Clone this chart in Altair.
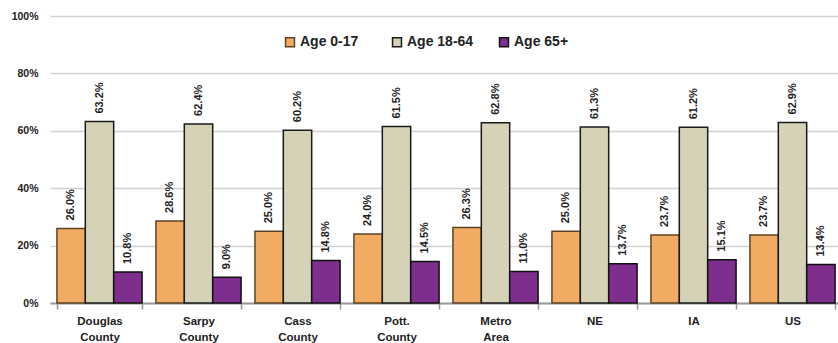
import altair as alt
import pandas as pd

# Population share by age group for each area
areas = ["Douglas County", "Sarpy County", "Cass County", "Pott. County",
         "Metro Area", "NE", "IA", "US"]
groups = ["Age 0-17", "Age 18-64", "Age 65+"]
age_0_17 = [26.0, 28.6, 25.0, 24.0, 26.3, 25.0, 23.7, 23.7]
age_18_64 = [63.2, 62.4, 60.2, 61.5, 62.8, 61.3, 61.2, 62.9]
age_65_plus = [10.8, 9.0, 14.8, 14.5, 11.0, 13.7, 15.1, 13.4]

fills = ["#F1AB62", "#D6D2B7", "#7E2E8C"]
strokes = ["#5e4426", "#1a1a1a", "#111111"]

rows = []
for i, a in enumerate(areas):
    for g, vals in zip(groups, [age_0_17, age_18_64, age_65_plus]):
        rows.append({"area": a, "group": g, "pct": vals[i] / 100.0,
                     "label": f"{vals[i]:.1f}%"})
df = pd.DataFrame(rows)

FONT = "Liberation Sans"

x_enc = alt.X(
    "area:N", sort=areas, title=None,
    scale=alt.Scale(paddingInner=0.14, paddingOuter=0.07, range=[0, 792]),
    axis=alt.Axis(
        labelAngle=0, tickBand="extent", labelExpr="split(datum.label, ' ')",
        labelFont=FONT, labelFontSize=11.5, labelFontWeight="bold",
        labelColor="#222222", labelPadding=6, labelLineHeight=16,
        tickColor="#9a9a9a", tickSize=6, tickWidth=1.5,
        domainColor="#9a9a9a", domainWidth=2, grid=False,
    ),
)
xoff = alt.XOffset("group:N", sort=groups, scale=alt.Scale(paddingInner=0, paddingOuter=0))
y_enc = alt.Y(
    "pct:Q", title=None,
    scale=alt.Scale(domain=[0, 1], nice=False),
    axis=alt.Axis(
        format=".0%", values=[0, 0.2, 0.4, 0.6, 0.8, 1.0], ticks=False, domain=False,
        labelFont=FONT, labelFontSize=10.5, labelFontWeight="bold",
        labelColor="#222222", labelPadding=12,
        gridColor="#d2d2d2", gridWidth=1.5,
    ),
)

bars = alt.Chart(df).mark_bar(strokeWidth=1.5).encode(
    x=x_enc,
    xOffset=xoff,
    y=y_enc,
    color=alt.Color(
        "group:N", sort=groups, title=None,
        scale=alt.Scale(domain=groups, range=fills),
        legend=alt.Legend(
            orient="none", legendX=233, legendY=19, direction="horizontal",
            columns=3, gridAlign="all", columnPadding=22,
            symbolType="square", symbolSize=80, symbolStrokeWidth=1.5,
            symbolStrokeColor="#333333", symbolOffset=0,
            labelFont=FONT, labelFontSize=14, labelFontWeight="bold",
            labelColor="#222222", labelOffset=3,
        ),
    ),
    stroke=alt.Stroke("group:N", sort=groups,
                      scale=alt.Scale(domain=groups, range=strokes), legend=None),
)

labels = alt.Chart(df).mark_text(
    angle=270, align="left", baseline="middle", dx=8,
    font=FONT, fontSize=11, fontWeight="bold", color="#222222",
).encode(
    x=alt.X("area:N", sort=areas,
            scale=alt.Scale(paddingInner=0.14, paddingOuter=0.07, range=[0, 792])),
    xOffset=xoff,
    y=alt.Y("pct:Q", scale=alt.Scale(domain=[0, 1], nice=False)),
    text="label:N",
)

chart = (
    alt.layer(bars, labels)
    .properties(
        width=788, height=287,
        autosize=alt.AutoSizeParams(type="none"),
        padding={"left": 50, "top": 16, "right": 0, "bottom": 40},
        background="white",
    )
    .configure_view(stroke=None)
)

chart.save("out.html", embed_options={"renderer": "svg", "actions": False})
